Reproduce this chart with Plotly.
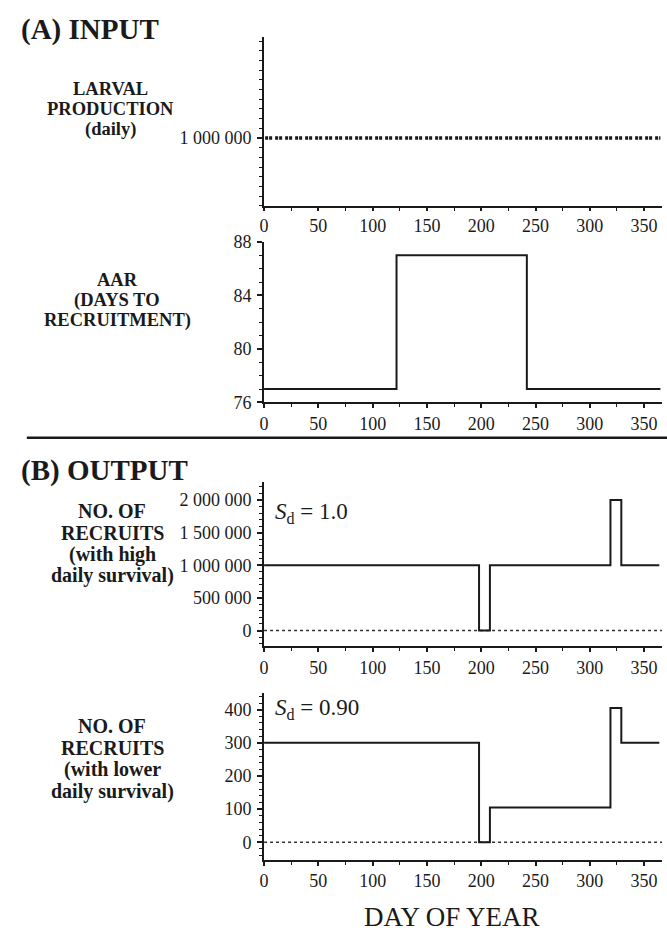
import plotly.graph_objects as go

# ---------------- data ----------------
prod_days = [1, 365]
prod_values = [1000000, 1000000]

aar_days = [0, 122, 242, 365]
aar_values = [77, 87, 77, 77]

high_days = [0, 198, 208, 319, 329, 364]
high_values = [1000000, 0, 1000000, 2000000, 1000000, 1000000]

low_days = [0, 198, 208, 319, 329, 364]
low_values = [300, 0, 105, 405, 300, 300]

zero_days = [0, 366.5]
zero_values = [0, 0]

x_ticks = [0, 50, 100, 150, 200, 250, 300, 350]
p1_ticks = [1000000]
p1_ticktext = ["1 000 000"]
p2_ticks = [76, 80, 84, 88]
p3_ticks = [0, 500000, 1000000, 1500000, 2000000]
p3_ticktext = ["0", "500 000", "1 000 000", "1 500 000", "2 000 000"]
p4_ticks = [0, 100, 200, 300, 400]

# ---------------- layout helpers ----------------
W, H = 667, 940
SERIF = "Liberation Serif"
INK = "#1a1a1a"


def py(p):
    return 1 - p / H


def px(p):
    return p / W


XDOM = [px(261), px(662)]
XRANGE = [0, 366.5]

panels = [  # (top px, bottom px)
    (28, 200),
    (237, 401),
    (482, 650),
    (698, 868),
]

fig = go.Figure()

line_style = dict(color=INK, width=2)

fig.add_trace(go.Scatter(x=prod_days, y=prod_values, mode="lines",
                         line=dict(color=INK, width=3.5, dash="3px,1px,3px,3px"),
                         xaxis="x", yaxis="y", showlegend=False))
fig.add_trace(go.Scatter(x=aar_days, y=aar_values, mode="lines", line_shape="hv",
                         line=line_style, xaxis="x2", yaxis="y2", showlegend=False))
fig.add_trace(go.Scatter(x=zero_days, y=zero_values, mode="lines",
                         line=dict(color="#333", width=1.5, dash="dot"),
                         xaxis="x3", yaxis="y3", showlegend=False))
fig.add_trace(go.Scatter(x=high_days, y=high_values, mode="lines", line_shape="hv",
                         line=line_style, xaxis="x3", yaxis="y3", showlegend=False))
fig.add_trace(go.Scatter(x=zero_days, y=zero_values, mode="lines",
                         line=dict(color="#333", width=1.5, dash="dot"),
                         xaxis="x4", yaxis="y4", showlegend=False))
fig.add_trace(go.Scatter(x=low_days, y=low_values, mode="lines", line_shape="hv",
                         line=line_style, xaxis="x4", yaxis="y4", showlegend=False))

tickfont = dict(family=SERIF, size=18, color=INK)


def xaxis(anchor, ticklen=4):
    return dict(domain=XDOM, range=XRANGE, anchor=anchor, showline=True, linewidth=2,
                linecolor=INK, ticks="outside", ticklen=ticklen, tickwidth=1.5, tickcolor=INK,
                tickvals=x_ticks, tickfont=tickfont, showgrid=False, zeroline=False,
                minor=dict(dtick=25, tick0=0, ticks="outside", ticklen=3, tickwidth=1,
                           tickcolor=INK))


def yaxis(anchor, top, bottom, rng, tickvals, ticktext, minor_dtick):
    return dict(domain=[py(bottom), py(top)], range=rng, anchor=anchor, showline=True,
                linewidth=2, linecolor=INK, ticks="outside", ticklen=5, tickwidth=1.5,
                tickcolor=INK, tickvals=tickvals, ticktext=ticktext, tickfont=tickfont,
                showgrid=False, zeroline=False, ticklabelstandoff=2,
                minor=dict(dtick=minor_dtick, tick0=0, ticks="outside", ticklen=3,
                           tickwidth=1.2, tickcolor=INK))


fig.update_layout(
    width=W, height=H, autosize=False,
    margin=dict(l=0, r=0, t=0, b=0, pad=0),
    paper_bgcolor="white", plot_bgcolor="white",
    xaxis=xaxis("y", ticklen=3), xaxis2=xaxis("y2"), xaxis3=xaxis("y3"), xaxis4=xaxis("y4"),
    yaxis=yaxis("x", *panels[0], [300000, 2040000], p1_ticks, p1_ticktext, 100000),
    yaxis2=yaxis("x2", *panels[1], [76, 88], p2_ticks, [str(v) for v in p2_ticks], 1),
    yaxis3=yaxis("x3", *panels[2], [-240000, 2280000], p3_ticks, p3_ticktext, 100000),
    yaxis4=yaxis("x4", *panels[3], [-52, 450], p4_ticks, [str(v) for v in p4_ticks], 20),
)

annotations = []


def text(t, xpx, ypx, size, bold=False, xanchor="center"):
    annotations.append(dict(
        text=(f"<b>{t}</b>" if bold else t), x=px(xpx), y=py(ypx), xref="paper", yref="paper",
        xanchor=xanchor, yanchor="middle", showarrow=False,
        font=dict(family=SERIF, size=size, color=INK)))


text("(A) INPUT", 14, 20, 29, bold=True, xanchor="left")
text("(B) OUTPUT", 14, 470, 29, bold=True, xanchor="left")

for t, y in [("LARVAL", 81), ("PRODUCTION", 101.5), ("(daily)", 122)]:
    text(t, 106, y, 18.5, bold=True)
for t, y in [("AAR", 276), ("(DAYS TO", 296.5), ("RECRUITMENT)", 317)]:
    text(t, 113, y, 18.5, bold=True)
for t, y in [("NO. OF", 512), ("RECRUITS", 534), ("(with high", 556), ("daily survival)", 578)]:
    text(t, 108, y, 20, bold=True)
for t, y in [("NO. OF", 732), ("RECRUITS", 754), ("(with lower", 776), ("daily survival)", 798)]:
    text(t, 108, y, 20, bold=True)

text("<i>S</i><sub>d</sub> = 1.0", 270, 514, 23, xanchor="left")
text("<i>S</i><sub>d</sub> = 0.90", 270, 714, 23, xanchor="left")
text("DAY OF YEAR", 450, 927, 27)

fig.update_layout(annotations=annotations)

fig.add_shape(type="line", xref="paper", yref="paper", x0=px(22), x1=1, y0=py(437), y1=py(437),
              line=dict(color=INK, width=2.5))

fig.write_html("out.html")
